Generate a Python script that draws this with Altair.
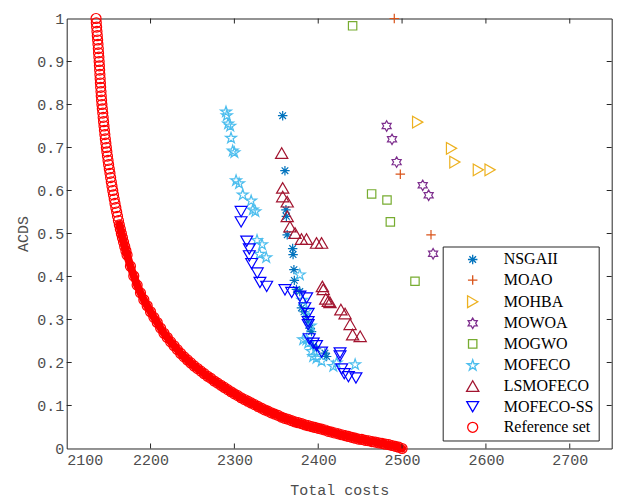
import altair as alt
import pandas as pd

# ---------------- data ----------------
algos = ["NSGAII", "MOAO", "MOHBA", "MOWOA", "MOGWO", "MOFECO", "LSMOFECO",
         "MOFECO-SS", "Reference set"]
colors = ["#0072BD", "#D95319", "#EDB120", "#7E2F8E", "#77AC30", "#4DBEEE",
          "#A2142F", "#0000FF", "#FF0000"]

nsga_x = [2357.6, 2360.3, 2361.5, 2362, 2363, 2369.5, 2370, 2371, 2371.5, 2374,
          2378, 2380, 2383, 2386, 2388, 2390, 2392, 2394, 2398, 2408, 2410]
nsga_y = [0.774, 0.646, 0.555, 0.540, 0.497, 0.465, 0.451, 0.416, 0.391, 0.370,
          0.365, 0.327, 0.318, 0.307, 0.294, 0.280, 0.272, 0.238, 0.232, 0.222, 0.214]

moao_x = [2490.7, 2497.9, 2534.5]
moao_y = [1.0, 0.638, 0.497]

mohba_x = [2518.6, 2559, 2563, 2591, 2605]
mohba_y = [0.759, 0.698, 0.666, 0.648, 0.648]

mowoa_x = [2481.6, 2488, 2493.5, 2524.6, 2531.7, 2537]
mowoa_y = [0.750, 0.719, 0.666, 0.612, 0.589, 0.453]

mogwo_x = [2441, 2463.7, 2482, 2486, 2515.4]
mogwo_y = [0.983, 0.592, 0.578, 0.527, 0.389]

mofeco_x = [2290, 2291, 2292.5, 2295, 2296, 2298, 2300, 2302, 2305.6, 2310,
            2320, 2322, 2325, 2327, 2333, 2330, 2338, 2378, 2381, 2386, 2391,
            2382, 2386, 2388, 2392, 2394, 2398, 2404, 2418, 2422, 2444]
mofeco_y = [0.783, 0.774, 0.755, 0.750, 0.722, 0.692, 0.688, 0.623, 0.616, 0.590,
            0.576, 0.555, 0.551, 0.484, 0.474, 0.452, 0.444, 0.404, 0.345, 0.320, 0.285,
            0.253, 0.253, 0.245, 0.226, 0.214, 0.210, 0.203, 0.191, 0.199, 0.195]

lsmofeco_x = [2356.4, 2357.6, 2357.6, 2363, 2363, 2366.3, 2372.3, 2380, 2386, 2398,
              2404, 2405, 2406, 2409, 2412, 2414, 2427, 2432, 2438, 2441, 2450]
lsmofeco_y = [0.687, 0.606, 0.586, 0.574, 0.540, 0.516, 0.501, 0.487, 0.487, 0.478,
              0.478, 0.377, 0.370, 0.348, 0.343, 0.340, 0.323, 0.314, 0.289, 0.265, 0.261]

ss_x = [2308, 2308, 2314.7, 2317.8, 2317.8, 2320.6, 2327.3, 2330.5, 2338.5, 2360.3,
        2368.3, 2378.2, 2386.2, 2384, 2388, 2388, 2388, 2389.3, 2394, 2398, 2404,
        2426, 2426, 2428, 2431, 2436, 2445]
ss_y = [0.551, 0.527, 0.482, 0.464, 0.448, 0.430, 0.408, 0.386, 0.377, 0.369,
        0.363, 0.354, 0.350, 0.327, 0.314, 0.295, 0.288, 0.255, 0.245, 0.239, 0.224,
        0.222, 0.215, 0.185, 0.174, 0.167, 0.164]

ref_x = [2135.0, 2135.3, 2135.7, 2136.1, 2136.5, 2136.9, 2137.3, 2137.7, 2138.0, 2138.4,
         2138.7, 2139.0, 2139.3, 2139.6, 2139.9, 2140.2, 2140.5, 2140.9, 2141.2, 2141.6,
         2142.0, 2142.5, 2143.0, 2143.5, 2144.0, 2144.5, 2145.0, 2145.5, 2146.1, 2146.7,
         2147.3, 2147.9, 2148.6, 2149.3, 2150.0, 2150.8, 2151.6, 2152.4, 2153.2, 2154.0,
         2154.9, 2155.8, 2156.7, 2157.6, 2158.6, 2159.6, 2160.6, 2161.7, 2162.8, 2164.0,
         2165.2, 2166.5, 2167.8, 2169.2, 2170.6,
         2172, 2176, 2180, 2184, 2188, 2192, 2196, 2200, 2204, 2208, 2212, 2216, 2220,
         2224, 2228, 2232, 2236, 2240, 2244, 2248, 2252, 2256, 2260, 2264, 2268, 2272,
         2276, 2280, 2284, 2288, 2292, 2296, 2300, 2304, 2308, 2312, 2316, 2320, 2324,
         2328, 2332, 2336, 2340, 2344, 2348, 2352, 2356, 2360, 2364, 2368, 2372, 2376,
         2380, 2384, 2388, 2392, 2396, 2400, 2404, 2408, 2412, 2416, 2420, 2424, 2428,
         2432, 2436, 2440, 2444, 2448, 2452, 2456, 2460, 2464, 2468, 2472, 2476, 2480,
         2484, 2488, 2492, 2496, 2500]
ref_y = [1.00, 0.99, 0.98, 0.97, 0.96, 0.95, 0.94, 0.93, 0.92, 0.91,
         0.90, 0.89, 0.88, 0.87, 0.86, 0.85, 0.84, 0.83, 0.82, 0.81,
         0.80, 0.79, 0.78, 0.77, 0.76, 0.75, 0.74, 0.73, 0.72, 0.71,
         0.70, 0.69, 0.68, 0.67, 0.66, 0.65, 0.64, 0.63, 0.62, 0.61,
         0.60, 0.59, 0.58, 0.57, 0.56, 0.55, 0.54, 0.53, 0.52, 0.51,
         0.50, 0.49, 0.48, 0.47, 0.46,
         0.450, 0.424, 0.401, 0.380, 0.362, 0.346, 0.332, 0.318, 0.305, 0.293, 0.280,
         0.268, 0.258, 0.248, 0.239, 0.230, 0.221, 0.213, 0.206, 0.199, 0.192, 0.186,
         0.180, 0.174, 0.168, 0.163, 0.157, 0.152, 0.147, 0.142, 0.137, 0.132, 0.127,
         0.123, 0.118, 0.114, 0.110, 0.106, 0.102, 0.098, 0.094, 0.090, 0.087, 0.083,
         0.080, 0.077, 0.073, 0.070, 0.068, 0.065, 0.062, 0.060, 0.058, 0.055, 0.053,
         0.051, 0.049, 0.047, 0.045, 0.043, 0.040, 0.038, 0.036, 0.034, 0.032, 0.030,
         0.028, 0.026, 0.024, 0.022, 0.021, 0.019, 0.018, 0.016, 0.015, 0.013, 0.012,
         0.010, 0.009, 0.007, 0.005, 0.003, 0.000]

x_ticks = [2100, 2200, 2300, 2400, 2500, 2600, 2700]
y_ticks = [0, 0.1, 0.2, 0.3, 0.4, 0.5, 0.6, 0.7, 0.8, 0.9, 1]

# ---------------- build table ----------------
series = [
    ("NSGAII", nsga_x, nsga_y), ("MOAO", moao_x, moao_y), ("MOHBA", mohba_x, mohba_y),
    ("MOWOA", mowoa_x, mowoa_y), ("MOGWO", mogwo_x, mogwo_y),
    ("MOFECO", mofeco_x, mofeco_y), ("LSMOFECO", lsmofeco_x, lsmofeco_y),
    ("MOFECO-SS", ss_x, ss_y), ("Reference set", ref_x, ref_y),
]
df = pd.concat([pd.DataFrame({"cost": xs, "acds": ys, "algo": n}) for n, xs, ys in series],
               ignore_index=True)
ref_df = pd.DataFrame({"cost": ref_x, "acds": ref_y})
ref_df = ref_df[ref_df["acds"] <= 0.52]

ASTERISK = "M-1,0L1,0M0,-1L0,1M-0.7,-0.7L0.7,0.7M-0.7,0.7L0.7,-0.7"
PLUS = "M-1,0L1,0M0,-1L0,1"
HEXAGRAM = ("M0,-1L0.289,-0.5L0.866,-0.5L0.577,0L0.866,0.5L0.289,0.5L0,1"
            "L-0.289,0.5L-0.866,0.5L-0.577,0L-0.866,-0.5L-0.289,-0.5Z")
PENTAGRAM = ("M0,-1L0.2245,-0.309L0.951,-0.309L0.363,0.118L0.588,0.809L0,0.382"
             "L-0.588,0.809L-0.363,0.118L-0.951,-0.309L-0.2245,-0.309Z")
shapes = [ASTERISK, PLUS, "triangle-right", HEXAGRAM, "square", PENTAGRAM,
          "triangle-up", "triangle-down", "circle"]
sizes = [90, 90, 140, 110, 70, 130, 150, 140, 100]

W, H = 545, 430
FRAME = "#262626"
LABEL = "#4d4d4d"

xscale = alt.Scale(domain=[2100, 2750], nice=False, zero=False)
yscale = alt.Scale(domain=[0, 1], nice=False, zero=False)

x_axis = alt.Axis(values=x_ticks, format="d", ticks=False, domain=False, grid=False,
                  labelFont="Liberation Mono", labelFontSize=15, labelColor=LABEL,
                  labelPadding=4, titleFont="Liberation Mono", titleFontSize=15,
                  titleFontWeight="normal", titleColor=LABEL, titlePadding=15)
y_axis = alt.Axis(values=y_ticks, format="~g", ticks=False, domain=False, grid=False,
                  labelFont="Liberation Mono", labelFontSize=15, labelColor=LABEL,
                  labelPadding=3, titleFont="Liberation Mono", titleFontSize=15,
                  titleFontWeight="normal", titleColor=LABEL, titlePadding=6)

X = alt.X("cost:Q", scale=xscale, title="Total costs", axis=x_axis)
Y = alt.Y("acds:Q", scale=yscale, title="ACDS", axis=y_axis)

band = alt.Chart(ref_df).mark_line(color="#FF0000", strokeWidth=8, strokeCap="round",
                                   strokeJoin="round").encode(x=X, y=Y, order="cost:Q")

points = alt.Chart(df).mark_point(filled=False, strokeWidth=1.2, opacity=1).encode(
    x=X, y=Y,
    color=alt.Color("algo:N", scale=alt.Scale(domain=algos, range=colors),
                    legend=alt.Legend(title=None, orient="none", legendX=376, legendY=228,
                                      padding=5, strokeColor=FRAME, fillColor="white",
                                      labelFont="Liberation Serif", labelFontSize=16,
                                      labelColor="black", symbolStrokeWidth=1.3,
                                      symbolSize=110, rowPadding=4.6, symbolOffset=17,
                                      labelOffset=23, labelLimit=200)),
    shape=alt.Shape("algo:N", scale=alt.Scale(domain=algos, range=shapes)),
    size=alt.Size("algo:N", scale=alt.Scale(type="ordinal", domain=algos, range=sizes),
                  legend=None),
)

xt = pd.DataFrame({"cost": x_ticks[1:]})
yt = pd.DataFrame({"acds": y_ticks[1:-1]})
tick_style = dict(color=FRAME, strokeWidth=1)
bottom_ticks = alt.Chart(xt).mark_rule(**tick_style).encode(
    x=X, y=alt.value(H), y2=alt.value(H - 5))
top_ticks = alt.Chart(xt).mark_rule(**tick_style).encode(
    x=X, y=alt.value(0), y2=alt.value(5))
left_ticks = alt.Chart(yt).mark_rule(**tick_style).encode(
    y=Y, x=alt.value(0), x2=alt.value(5))
right_ticks = alt.Chart(yt).mark_rule(**tick_style).encode(
    y=Y, x=alt.value(W), x2=alt.value(W - 5))

chart = alt.layer(band, bottom_ticks, top_ticks, left_ticks, right_ticks, points).properties(
    width=W, height=H,
    autosize=alt.AutoSizeParams(type="none"),
    padding={"left": 58.7, "top": 10.5, "right": 12, "bottom": 52},
    background="white",
).configure_view(stroke=FRAME, strokeWidth=1)

chart.save("out.html", embed_options={"renderer": "svg", "actions": False})
